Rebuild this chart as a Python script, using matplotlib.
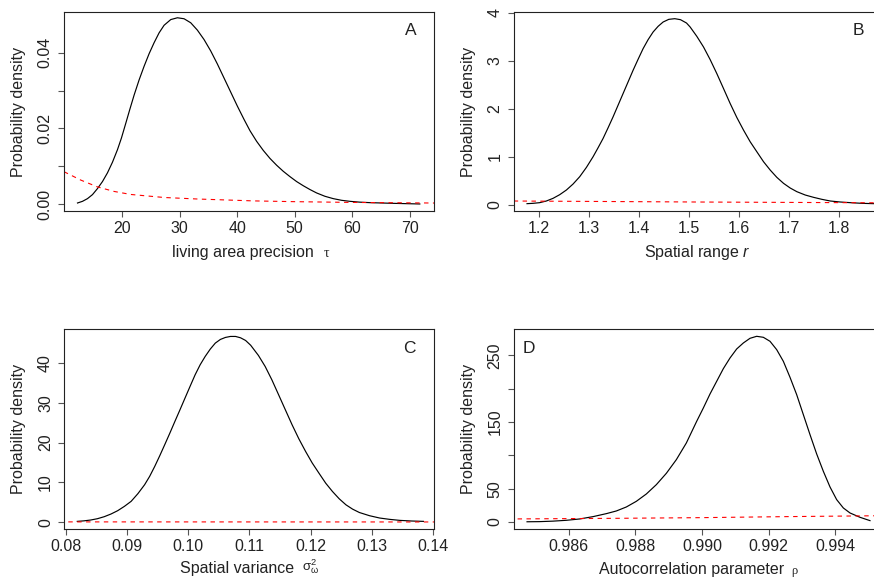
import matplotlib
matplotlib.use("Agg")
import matplotlib.pyplot as plt

plt.rcParams['font.family'] = ['Liberation Sans', 'DejaVu Sans']
plt.rcParams['mathtext.fontset'] = 'custom'
plt.rcParams['mathtext.rm'] = 'Liberation Sans'
plt.rcParams['mathtext.it'] = 'Liberation Sans:italic'
plt.rcParams['mathtext.bf'] = 'Liberation Sans:bold'

# ---------------- data ----------------
# Panel A: living area precision tau
tau_x = [12.246, 13.114, 13.982, 14.85, 15.718, 16.586, 17.454, 18.322, 19.19, 19.885,
         20.637, 21.332, 22.084, 22.952, 23.82, 24.688, 25.556, 26.424, 27.292, 28.45,
         29.607, 30.764, 31.922, 33.079, 34.236, 35.394, 36.551, 37.709, 38.866, 40.023,
         41.181, 42.222, 43.379, 44.537, 45.694, 46.852, 48.009, 49.167, 50.324, 51.481,
         52.639, 53.796, 55.243, 56.69, 58.137, 59.583, 61.319, 63.056, 67.107, 71.736]
tau_post = [0.00035, 0.00079, 0.00150, 0.00256, 0.00415, 0.00600, 0.00830, 0.01110, 0.01440, 0.01750,
            0.02137, 0.02500, 0.02880, 0.03280, 0.03640, 0.03970, 0.04260, 0.04520, 0.04720, 0.04870,
            0.04918, 0.04892, 0.04786, 0.04592, 0.04344, 0.04044, 0.03700, 0.03330, 0.02960, 0.02590,
            0.02240, 0.01940, 0.01660, 0.01420, 0.01210, 0.01030, 0.00870, 0.00730, 0.00600, 0.00490,
            0.00390, 0.00300, 0.00212, 0.00150, 0.00106, 0.00079, 0.00057, 0.00044, 0.00026, 0.00009]
tau_prior_x = [9.9, 12.8, 15.7, 18.6, 21.5, 24.4, 27.3, 33.1, 42.9, 50.0, 60.0, 74.3]
tau_prior = [0.0086, 0.0064, 0.0046, 0.0034, 0.0026, 0.0022, 0.0018, 0.0014, 0.0009, 0.0007, 0.0005, 0.00034]

# Panel B: spatial range r
r_x = [1.1766, 1.1886, 1.2019, 1.2153, 1.2286, 1.2419, 1.2553, 1.2686, 1.2819, 1.2953,
       1.3086, 1.3186, 1.3286, 1.3386, 1.3486, 1.3586, 1.3686, 1.3786, 1.3886, 1.3986,
       1.4086, 1.4186, 1.4286, 1.4386, 1.4486, 1.4599, 1.4719, 1.4833, 1.4953, 1.5026,
       1.5159, 1.5293, 1.5426, 1.5559, 1.5693, 1.5826, 1.5959, 1.6093, 1.6226, 1.6359,
       1.6493, 1.6626, 1.6759, 1.6893, 1.7026, 1.7159, 1.7326, 1.7493, 1.7659, 1.7826,
       1.8026, 1.8226, 1.8459, 1.8706]
r_post = [0.0277, 0.0347, 0.0485, 0.0832, 0.1386, 0.2148, 0.3119, 0.4366, 0.5891, 0.7831,
          1.0049, 1.1920, 1.3860, 1.6078, 1.8365, 2.0790, 2.3216, 2.5641, 2.8067, 3.0354,
          3.2571, 3.4442, 3.6036, 3.7214, 3.8115, 3.8669, 3.8808, 3.8600, 3.7907, 3.7075,
          3.5135, 3.2918, 3.0284, 2.7374, 2.4255, 2.1137, 1.8226, 1.5593, 1.3167, 1.1088,
          0.9009, 0.7277, 0.5752, 0.4505, 0.3534, 0.2772, 0.2079, 0.1594, 0.1178, 0.0832,
          0.0624, 0.0485, 0.0347, 0.0277]
r_prior_x = [1.15, 1.35, 1.52, 1.70, 1.89]
r_prior = [0.083, 0.072, 0.062, 0.054, 0.045]

# Panel C: spatial variance sigma^2_omega
s_x = [0.08192, 0.08301, 0.08411, 0.08521, 0.08631, 0.08741, 0.08851, 0.08960, 0.09070, 0.09180,
       0.09290, 0.09372, 0.09455, 0.09537, 0.09619, 0.09702, 0.09784, 0.09867, 0.09949, 0.10031,
       0.10114, 0.10196, 0.10278, 0.10361, 0.10443, 0.10526, 0.10608, 0.10690, 0.10773, 0.10855,
       0.10937, 0.11020, 0.11146, 0.11256, 0.11365, 0.11475, 0.11585, 0.11695, 0.11805, 0.11915,
       0.12024, 0.12134, 0.12244, 0.12354, 0.12464, 0.12574, 0.12683, 0.12793, 0.12958, 0.13123,
       0.13288, 0.13452, 0.13644, 0.13837]
s_post = [0.24, 0.37, 0.58, 0.91, 1.41, 2.08, 2.92, 4.00, 5.26, 7.18,
          9.43, 11.52, 14.02, 16.70, 19.50, 22.38, 25.31, 28.23, 31.16, 34.08,
          37.00, 39.51, 41.60, 43.44, 44.94, 45.86, 46.36, 46.61, 46.61, 46.27,
          45.60, 44.40, 41.85, 39.09, 35.75, 32.00, 28.23, 24.47, 20.96, 17.79,
          14.87, 12.32, 9.81, 7.73, 5.90, 4.39, 3.30, 2.46, 1.66, 1.08,
          0.74, 0.49, 0.33, 0.24]
s_prior_x = [0.0790, 0.1100, 0.1410]
s_prior = [0.11, 0.10, 0.09]

# Panel D: autocorrelation parameter rho
rho_x = [0.98475, 0.98513, 0.98553, 0.98593, 0.98633, 0.98673, 0.98713, 0.98743, 0.98773, 0.98803,
         0.98833, 0.98863, 0.98893, 0.98923, 0.98953, 0.98984, 0.99004, 0.99024, 0.99044, 0.99064,
         0.99084, 0.99104, 0.99124, 0.99144, 0.99164, 0.99184, 0.99204, 0.99224, 0.99244, 0.99264,
         0.99284, 0.99304, 0.99324, 0.99344, 0.99364, 0.99384, 0.99404, 0.99424, 0.99444, 0.99474,
         0.99504]
rho_post = [0.3, 0.5, 1.25, 2.5, 4.5, 8.0, 12.5, 16.5, 22.5, 31.0,
            42.0, 56.0, 73.0, 93.5, 118.5, 151.0, 171.0, 192.0, 211.0, 230.0,
            246.0, 259.5, 268.5, 275.5, 278.5, 277.0, 271.0, 258.5, 241.0, 217.0,
            191.0, 161.0, 131.0, 102.0, 76.0, 52.5, 33.5, 21.0, 13.5, 7.0,
            2.0]
rho_prior_x = [0.98420, 0.9875, 0.9900, 0.9925, 0.99560]
rho_prior = [4.5, 5.5, 6.5, 8.0, 9.5]

# tick values and labels
tau_xticks = [20, 30, 40, 50, 60, 70]
tau_yticks = [0.0, 0.01, 0.02, 0.03, 0.04]
tau_ylabels = ['0.00', '', '0.02', '', '0.04']
r_xticks = [1.2, 1.3, 1.4, 1.5, 1.6, 1.7, 1.8]
r_yticks = [0, 1, 2, 3, 4]
r_ylabels = ['0', '1', '2', '3', '4']
s_xticks = [0.08, 0.09, 0.10, 0.11, 0.12, 0.13, 0.14]
s_xlabels = ['0.08', '0.09', '0.10', '0.11', '0.12', '0.13', '0.14']
s_yticks = [0, 10, 20, 30, 40]
s_ylabels = ['0', '10', '20', '30', '40']
rho_xticks = [0.986, 0.988, 0.990, 0.992, 0.994]
rho_xlabels = ['0.986', '0.988', '0.990', '0.992', '0.994']
rho_yticks = [0, 50, 100, 150, 200, 250]
rho_ylabels = ['0', '50', '', '150', '', '250']

TXT = '#222222'
FS = 11.5

fig = plt.figure(figsize=(8.74, 5.85), dpi=100)

def make_ax(rect, xlim, ylim):
    ax = fig.add_axes(rect)
    ax.set_xlim(*xlim)
    ax.set_ylim(*ylim)
    for s in ax.spines.values():
        s.set_color('#222222')
        s.set_linewidth(0.8)
    ax.tick_params(axis='both', direction='out', length=4.1, width=0.8,
                   color='#555555', labelcolor=TXT, labelsize=FS)
    ax.tick_params(axis='x', pad=3)
    ax.tick_params(axis='y', pad=4, labelrotation=90)
    return ax

def finish(ax, xt, xl, yt, yl, ylab_x=-0.103):
    ax.set_xticks(xt)
    ax.set_xticklabels(xl)
    ax.set_yticks(yt)
    ax.set_yticklabels(yl, va='center')
    ax.set_ylabel('Probability density', fontsize=FS, color=TXT)
    ax.yaxis.set_label_coords(ylab_x, 0.5)

def post(ax, x, y):
    ax.plot(x, y, color='black', lw=0.85, solid_joinstyle='round')

def prior(ax, x, y):
    ax.plot(x, y, color='red', lw=0.8, linestyle=(0, (4, 4)))

# ---------- A ----------
axA = make_ax([0.07323, 0.63932, 0.42334, 0.34017], (9.9, 74.2), (-0.00176, 0.0507))
post(axA, tau_x, tau_post)
prior(axA, tau_prior_x, tau_prior)
finish(axA, tau_xticks, [str(v) for v in tau_xticks], tau_yticks, tau_ylabels)
axA.set_xlabel('living area precision', fontsize=FS, color=TXT, va='baseline')
axA.xaxis.set_label_coords(0.484, -0.2296)
axA.annotate('τ', xy=(1, 0), xycoords=axA.xaxis.label, xytext=(7, 0),
             textcoords='offset points', ha='left', va='bottom',
             fontsize=10, color=TXT, family=['Liberation Serif', 'DejaVu Serif'])
axA.text(0.954, 0.945, 'A', transform=axA.transAxes, ha='right', va='top',
         fontsize=12.5, color=TXT)

# ---------- B ----------
axB = make_ax([0.58776, 0.63932, 0.42368, 0.34017], (1.15, 1.89), (-0.125, 4.02))
post(axB, r_x, r_post)
prior(axB, r_prior_x, r_prior)
finish(axB, r_xticks, [f'{v:.1f}' for v in r_xticks], r_yticks, r_ylabels)
axB.set_xlabel(r'Spatial range $\mathit{r}$', fontsize=FS, color=TXT, va='baseline')
axB.xaxis.set_label_coords(0.497, -0.2296)
axB.text(0.946, 0.945, 'B', transform=axB.transAxes, ha='right', va='top',
         fontsize=12.5, color=TXT)

# ---------- C ----------
axC = make_ax([0.07357, 0.09521, 0.42300, 0.34188], (0.0798, 0.1401), (-1.75, 48.4))
post(axC, s_x, s_post)
prior(axC, s_prior_x, s_prior)
finish(axC, s_xticks, s_xlabels, s_yticks, s_ylabels)
axC.set_xlabel('Spatial variance', fontsize=FS, color=TXT, va='baseline')
axC.xaxis.set_label_coords(0.4685, -0.2185)
axC.annotate(r'$\mathrm{σ}^{2}_{\mathrm{ω}}$', xy=(1, 0), xycoords=axC.xaxis.label,
             xytext=(5, 0), textcoords='offset points', ha='left', va='bottom',
             fontsize=9.5, color=TXT)
axC.text(0.950, 0.943, 'C', transform=axC.transAxes, ha='right', va='top',
         fontsize=12.5, color=TXT)

# ---------- D ----------
axD = make_ax([0.58776, 0.09521, 0.42368, 0.34188], (0.98435, 0.99546), (-11, 289))
post(axD, rho_x, rho_post)
prior(axD, rho_prior_x, rho_prior)
finish(axD, rho_xticks, rho_xlabels, rho_yticks, rho_ylabels)
axD.set_xlabel('Autocorrelation parameter', fontsize=FS, color=TXT, va='baseline')
axD.xaxis.set_label_coords(0.480, -0.222)
axD.annotate('ρ', xy=(1, 0), xycoords=axD.xaxis.label, xytext=(5, 0),
             textcoords='offset points', ha='left', va='bottom',
             fontsize=9, color=TXT, family=['Liberation Serif', 'DejaVu Serif'])
axD.text(0.025, 0.943, 'D', transform=axD.transAxes, ha='left', va='top',
         fontsize=12.5, color=TXT)

fig.savefig('out.png', dpi=100)
